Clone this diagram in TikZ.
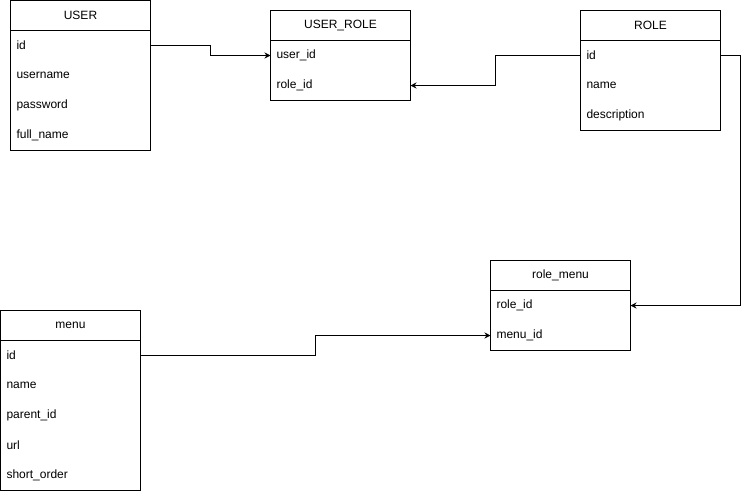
\documentclass[tikz,border=0pt]{standalone}
\usepackage{fontspec}
\setmainfont{Liberation Sans}
\usetikzlibrary{positioning, fit, arrows.meta}
\tikzstyle{tablehead} = [rectangle, minimum width=140pt, minimum height=30pt, inner sep=0pt, text centered, draw=black]
\tikzstyle{field} = [rectangle, minimum height=30pt, text width=128pt, inner xsep=6pt, inner ysep=0pt, align=left]
\tikzstyle{tablebody} = [rectangle, inner sep=0pt, draw=black]
\tikzstyle{arrow} = [-{Stealth[length=6pt,width=6pt]}]

\begin{document}
\begin{tikzpicture}[x=1pt, y=-1pt, line width=0.8pt, outer sep=0pt, font=\fontsize{12}{14}\selectfont]
\useasboundingbox (0,0) rectangle (749,491);

% USER
\node (user) [tablehead] at (80.5,15.5) {USER};
\node (userid) [field, below=0pt of user] {id};
\node (username) [field, below=0pt of userid] {username};
\node (userpass) [field, below=0pt of username] {password};
\node (userfull) [field, below=0pt of userpass] {full\_name};
\node (userbody) [tablebody, fit=(userid) (userfull)] {};

% USER_ROLE
\node (ur) [tablehead] at (340.5,25.5) {USER\_ROLE};
\node (uruser) [field, below=0pt of ur] {user\_id};
\node (urrole) [field, below=0pt of uruser] {role\_id};
\node (urbody) [tablebody, fit=(uruser) (urrole)] {};

% ROLE
\node (role) [tablehead] at (650.5,25.5) {ROLE};
\node (roleid) [field, below=0pt of role] {id};
\node (rolename) [field, below=0pt of roleid] {name};
\node (roledesc) [field, below=0pt of rolename] {description};
\node (rolebody) [tablebody, fit=(roleid) (roledesc)] {};

% role_menu
\node (rm) [tablehead] at (560.5,275.5) {role\_menu};
\node (rmrole) [field, below=0pt of rm] {role\_id};
\node (rmmenu) [field, below=0pt of rmrole] {menu\_id};
\node (rmbody) [tablebody, fit=(rmrole) (rmmenu)] {};

% menu
\node (menu) [tablehead] at (70.5,325.5) {menu};
\node (menuid) [field, below=0pt of menu] {id};
\node (menuname) [field, below=0pt of menuid] {name};
\node (menuparent) [field, below=0pt of menuname] {parent\_id};
\node (menuurl) [field, below=0pt of menuparent] {url};
\node (menuorder) [field, below=0pt of menuurl] {short\_order};
\node (menubody) [tablebody, fit=(menuid) (menuorder)] {};

\draw [arrow] (userid.east) -- ++(60,0) |- (uruser.west);
\draw [arrow] (roleid.west) -- ++(-85,0) |- (urrole.east);
\draw [arrow] (roleid.east) -- ++(20,0) |- (rmrole.east);
\draw [arrow] (menuid.east) -- ++(175,0) |- (rmmenu.west);
\end{tikzpicture}
\end{document}
